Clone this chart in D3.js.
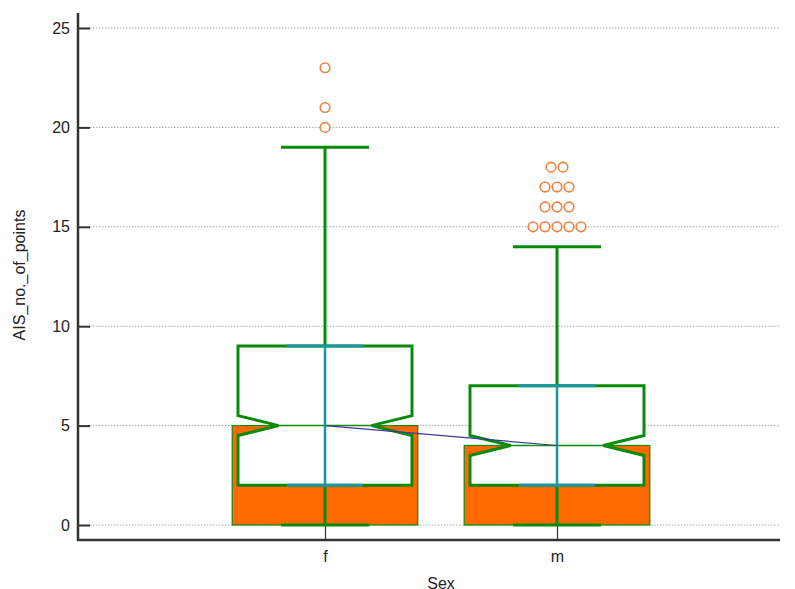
<!DOCTYPE html>
<html>
<head>
<meta charset="utf-8">
<script src="https://cdn.jsdelivr.net/npm/d3@7"></script>
<style>
  html, body { margin: 0; padding: 0; background: #fff; }
  svg { display: block; font-family: Arial, "Liberation Sans", sans-serif; }
</style>
</head>
<body>
<svg id="chart" width="795" height="589"></svg>
<script>
// Groups on the x axis
const categories = ["f", "m"];
// Box-and-whisker statistics per group
const whiskerLow = [0, 0];
const q1 = [2, 2];
const median = [5, 4];
const q3 = [9, 7];
const whiskerHigh = [19, 14];
const notchLow = [4.5, 3.5];
const notchHigh = [5.5, 4.5];
// Bar drawn behind each box
const barValues = [5, 4];
// Outlying observations per group
const outliersF = [20, 21, 23];
const outliersM = [15, 15, 15, 15, 15, 16, 16, 16, 17, 17, 17, 18, 18];
// Axis ticks
const yTicks = [0, 5, 10, 15, 20, 25];

(function () {
const svg = d3.select("#chart");
const axisColor = "#333333";
const green = "#0a8a0a";
const teal = "#1b96a3";
const orange = "#ff6a00";
const outlierColor = "#f08040";
const fontFamily = "Arial, Liberation Sans, sans-serif";

const y = d3.scaleLinear().domain([0, 25]).range([525, 28]);
const x = d3.scalePoint().domain(categories).range([93, 789]).padding(1);
const step = x.step(); // distance between the two groups

const plotLeft = 78, plotRight = 780, plotBottom = 540, plotTop = 13;

// Grid lines
svg.append("g").selectAll("line").data(yTicks).join("line")
  .attr("x1", plotLeft + 12).attr("x2", plotRight)
  .attr("y1", d => y(d)).attr("y2", d => y(d))
  .attr("stroke", "#a8a8a8").attr("stroke-width", 1)
  .attr("stroke-dasharray", "1.5,1.5");

// Y axis with inward ticks
const yAxis = d3.axisLeft(y).tickValues(yTicks).tickSize(-12).tickPadding(8);
const gy = svg.append("g").attr("transform", `translate(${plotLeft},0)`).call(yAxis);
gy.select(".domain").remove();
gy.selectAll(".tick line").attr("stroke", axisColor).attr("stroke-width", 2);
gy.selectAll(".tick text").attr("font-size", 16).attr("fill", "#222").attr("font-family", fontFamily);

// X axis with inward ticks
const xAxis = d3.axisBottom(x).tickSize(-15).tickPadding(11);
const gx = svg.append("g").attr("transform", `translate(0,${plotBottom})`).call(xAxis);
gx.select(".domain").remove();
gx.selectAll(".tick line").attr("stroke", axisColor).attr("stroke-width", 1.2);
gx.selectAll(".tick text").attr("font-size", 16).attr("fill", "#222").attr("font-family", fontFamily);

// Orange bars
const barHalf = 0.4 * step;
svg.append("g").selectAll("rect").data(categories).join("rect")
  .attr("x", d => x(d) - barHalf)
  .attr("width", 2 * barHalf)
  .attr("y", (d, i) => y(barValues[i]))
  .attr("height", (d, i) => y(0) - y(barValues[i]))
  .attr("fill", orange).attr("stroke", green).attr("stroke-width", 1.2);

// Notched boxes
const boxHalf = 0.375 * step;
const notchHalf = 0.2 * step;
const capHalf = 0.19 * step;
const innerHalf = 0.165 * step;

categories.forEach((c, i) => {
  const cx = x(c);
  const g = svg.append("g");
  const L = cx - boxHalf, R = cx + boxHalf;
  const outline = [
    [L, y(q3[i])], [R, y(q3[i])], [R, y(notchHigh[i])], [cx + notchHalf, y(median[i])],
    [R, y(notchLow[i])], [R, y(q1[i])], [L, y(q1[i])], [L, y(notchLow[i])],
    [cx - notchHalf, y(median[i])], [L, y(notchHigh[i])]
  ];
  g.append("path").attr("d", d3.line()(outline) + "Z")
    .attr("fill", "#fff")
    .attr("stroke", green).attr("stroke-width", 3).attr("stroke-linejoin", "miter");
  // Median line
  g.append("line").attr("x1", cx - notchHalf).attr("x2", cx + notchHalf)
    .attr("y1", y(median[i])).attr("y2", y(median[i]))
    .attr("stroke", green).attr("stroke-width", 1.5);
  // Whiskers
  g.append("line").attr("x1", cx).attr("x2", cx)
    .attr("y1", y(q3[i])).attr("y2", y(whiskerHigh[i]))
    .attr("stroke", green).attr("stroke-width", 3);
  g.append("line").attr("x1", cx).attr("x2", cx)
    .attr("y1", y(q1[i])).attr("y2", y(whiskerLow[i]))
    .attr("stroke", green).attr("stroke-width", 3);
  [whiskerHigh[i], whiskerLow[i]].forEach(v => {
    g.append("line").attr("x1", cx - capHalf).attr("x2", cx + capHalf)
      .attr("y1", y(v)).attr("y2", y(v))
      .attr("stroke", green).attr("stroke-width", 3);
  });
  // Inner segments
  g.append("line").attr("x1", cx).attr("x2", cx)
    .attr("y1", y(q1[i])).attr("y2", y(q3[i]))
    .attr("stroke", teal).attr("stroke-width", 2.5);
  [q1[i], q3[i]].forEach(v => {
    g.append("line").attr("x1", cx - innerHalf).attr("x2", cx + innerHalf)
      .attr("y1", y(v)).attr("y2", y(v))
      .attr("stroke", teal).attr("stroke-width", 3);
  });
});

// Line joining the medians
svg.append("path")
  .attr("d", d3.line().x((d, i) => x(categories[i])).y(d => y(d))(median))
  .attr("fill", "none").attr("stroke", "#3a3a9a").attr("stroke-width", 1.2);

// Outliers: identical values placed side by side
function spread(values, cat) {
  const counts = d3.rollup(values, v => v.length, v => v);
  const out = [];
  counts.forEach((n, v) => {
    for (let k = 0; k < n; k++) out.push({ v, dx: (k - (n - 1) / 2) * 12, cat });
  });
  return out;
}
const outlierPts = spread(outliersF, "f").concat(spread(outliersM, "m"));
svg.append("g").selectAll("circle").data(outlierPts).join("circle")
  .attr("cx", d => x(d.cat) + d.dx)
  .attr("cy", d => y(d.v))
  .attr("r", 4.8)
  .attr("fill", "#fff").attr("stroke", outlierColor).attr("stroke-width", 1.6);

// Axis lines
svg.append("line").attr("x1", plotLeft).attr("x2", plotLeft).attr("y1", plotTop).attr("y2", plotBottom + 1)
  .attr("stroke", axisColor).attr("stroke-width", 2.5);
svg.append("line").attr("x1", plotLeft - 1).attr("x2", plotRight).attr("y1", plotBottom).attr("y2", plotBottom)
  .attr("stroke", axisColor).attr("stroke-width", 2.5);

// Axis titles
svg.append("text").attr("x", 441).attr("y", 589).attr("text-anchor", "middle")
  .attr("font-size", 16).attr("fill", "#222").attr("font-family", fontFamily).text("Sex");
svg.append("text").attr("transform", "translate(25,275) rotate(-90)").attr("text-anchor", "middle")
  .attr("font-size", 16).attr("fill", "#222").attr("font-family", fontFamily).text("AIS_no._of_points");
})();
</script>
</body>
</html>
